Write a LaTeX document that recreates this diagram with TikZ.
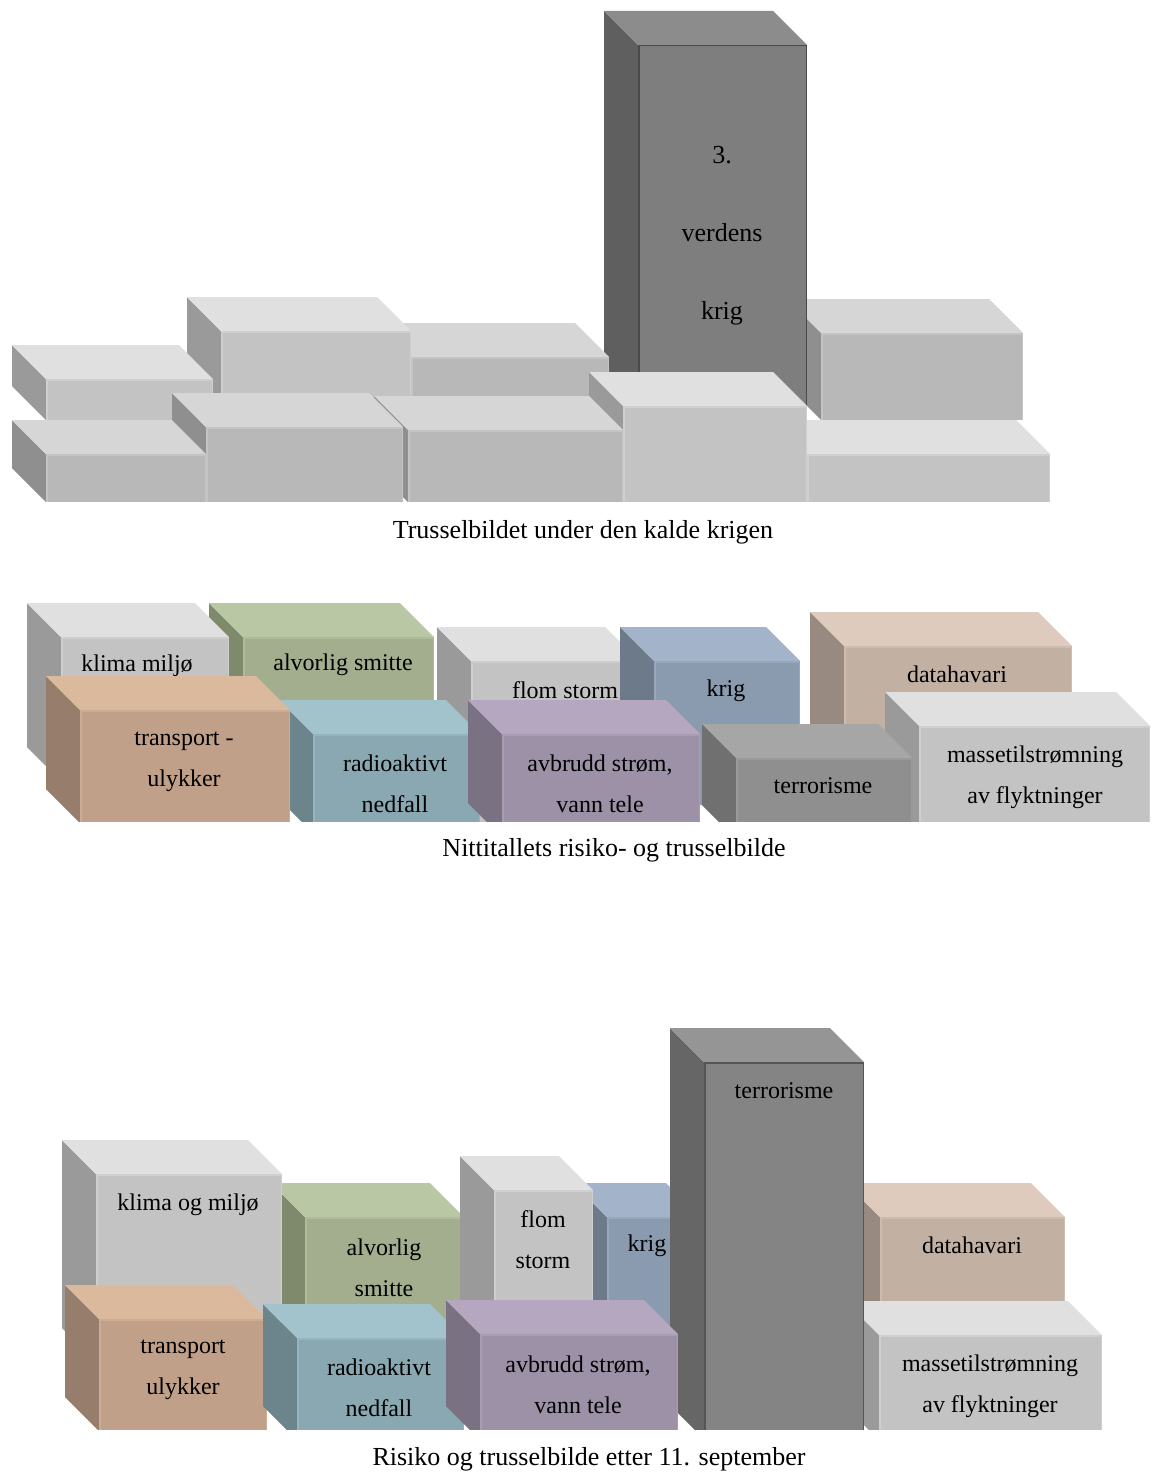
\documentclass[tikz,border=0pt]{standalone}
\usepackage{fontspec}
\setmainfont{Liberation Serif}
\definecolor{gaT}{HTML}{E0E0E0}\definecolor{gaF}{HTML}{C3C3C3}\definecolor{gaL}{HTML}{9A9A9A}\definecolor{gaE}{HTML}{CFCFCF}
\definecolor{gbT}{HTML}{D6D6D6}\definecolor{gbF}{HTML}{B8B8B8}\definecolor{gbL}{HTML}{8F8F8F}\definecolor{gbE}{HTML}{C4C4C4}
\definecolor{coT}{HTML}{8C8C8C}\definecolor{coF}{HTML}{7E7E7E}\definecolor{coL}{HTML}{5F5F5F}\definecolor{coE}{HTML}{4A4A4A}
\definecolor{dkT}{HTML}{A6A6A6}\definecolor{dkF}{HTML}{8F8F8F}\definecolor{dkL}{HTML}{707070}\definecolor{dkE}{HTML}{9A9A9A}
\definecolor{dtT}{HTML}{959595}\definecolor{dtF}{HTML}{848484}\definecolor{dtL}{HTML}{666666}\definecolor{dtE}{HTML}{555555}
\definecolor{grT}{HTML}{BAC7A4}\definecolor{grF}{HTML}{A3AE8F}\definecolor{grL}{HTML}{7F896C}\definecolor{grE}{HTML}{B0BB9C}
\definecolor{peT}{HTML}{DBB99C}\definecolor{peF}{HTML}{C0A088}\definecolor{peL}{HTML}{977E6C}\definecolor{peE}{HTML}{CCAC94}
\definecolor{teT}{HTML}{A2C3CC}\definecolor{teF}{HTML}{8AA8B2}\definecolor{teL}{HTML}{6C848B}\definecolor{teE}{HTML}{96B4BE}
\definecolor{blT}{HTML}{A3B4CA}\definecolor{blF}{HTML}{8B9BAF}\definecolor{blL}{HTML}{6D7A8A}\definecolor{blE}{HTML}{98A8BC}
\definecolor{puT}{HTML}{B4A7BF}\definecolor{puF}{HTML}{9C91A6}\definecolor{puL}{HTML}{7A7283}\definecolor{puE}{HTML}{A89DB2}
\definecolor{taT}{HTML}{DECBBD}\definecolor{taF}{HTML}{C2B0A3}\definecolor{taL}{HTML}{988A80}\definecolor{taE}{HTML}{CEBCAF}
\def\dd{34}
% #1 x0, #2 y0 (back top-left), #3 x1, #4 y1 (front bottom-right), #5 colour scheme
\newcommand\cubeshape[5]{%
  \fill[#5L] (#1,#2) -- (#1+\dd,#2+\dd) -- (#1+\dd,#4) -- (#1,#4-\dd) -- cycle;
  \fill[#5T] (#1,#2) -- (#3-\dd,#2) -- (#3,#2+\dd) -- (#1+\dd,#2+\dd) -- cycle;
  \fill[#5F] (#1+\dd,#2+\dd) rectangle (#3,#4);
  \draw[#5E, line width=1.5] (#1+\dd+0.75,#4) -- (#1+\dd+0.75,#2+\dd+0.75) -- (#3-0.75,#2+\dd+0.75) -- (#3-0.75,#4);
}
\tikzset{
  boxtext/.style={font=\fontsize{24}{41}\selectfont, align=center, inner sep=0pt},
  coltext/.style={font=\fontsize{26}{78}\selectfont, align=center, inner sep=0pt},
  caption/.style={font=\fontsize{26}{30}\selectfont, inner sep=0pt}
}
\begin{document}
\begin{tikzpicture}[x=1pt,y=-1pt]
\fill[white] (0,0) rectangle (1152,1472);
\useasboundingbox (0,0) rectangle (1152,1472);
% ---------- top panel ----------
\begin{scope}
\clip (0,0) rectangle (1152,502);
\cubeshape{787}{299}{1023}{420}{gb}
\cubeshape{604}{11}{807}{420}{co}
\cubeshape{377}{323}{609}{420}{gb}
\cubeshape{187}{297}{411}{420}{ga}
\cubeshape{12}{345}{213}{420}{ga}
\cubeshape{773}{420}{1050}{502}{ga}
\cubeshape{589}{372}{807}{502}{ga}
\cubeshape{374}{396}{623}{502}{gb}
\cubeshape{172}{393}{403}{502}{gb}
\cubeshape{12}{420}{206}{502}{gb}
\end{scope}
\node[coltext] (war) at (722,235.5) {3.\\verdens\\krig};
\node[caption] (cap1) at (583,532.5) {Trusselbildet under den kalde krigen};
% ---------- middle panel ----------
\begin{scope}
\clip (0,560) rectangle (1152,821);
\cubeshape{209}{603}{434}{780}{gr}
\cubeshape{27}{603}{229}{781}{ga}
\cubeshape{437}{627}{639}{850}{ga}
\cubeshape{620}{627}{800}{805}{bl}
\cubeshape{810}{612}{1072}{790}{ta}
\cubeshape{279}{700}{480}{833}{te}
\cubeshape{46}{676}{290}{823}{pe}
\cubeshape{468}{700}{700}{837}{pu}
\cubeshape{885}{692}{1150}{860}{ga}
\cubeshape{702}{724}{912}{839}{dk}
\end{scope}
\node[boxtext] (m1) at (137,665.5) {klima miljø};
\node[boxtext] (m2) at (343,664.5) {alvorlig smitte};
\node[boxtext] (m3) at (565,690.5) {flom storm};
\node[boxtext] (m4) at (726,690.5) {krig};
\node[boxtext] (m5) at (957,674.5) {datahavari};
\node[boxtext] (m6) at (184,762) {transport -\\ulykker};
\node[boxtext] (m7) at (395,784) {radioaktivt\\nedfall};
\node[boxtext] (m8) at (600,784) {avbrudd strøm,\\vann tele};
\node[boxtext] (m9) at (823,785.5) {terrorisme};
\node[boxtext] (m10) at (1035,777) {massetilstrømning\\av flyktninger};
\node[caption] (cap2) at (614,850.5) {Nittitallets risiko- og trusselbilde};
% ---------- bottom panel ----------
\begin{scope}
\clip (0,1000) rectangle (1152,1429);
\cubeshape{271}{1183}{464}{1400}{gr}
\cubeshape{62}{1140}{282}{1362}{ga}
\cubeshape{573}{1183}{700}{1400}{bl}
\cubeshape{460}{1156}{593}{1400}{ga}
\cubeshape{846}{1183}{1065}{1340}{ta}
\cubeshape{845}{1301}{1102}{1440}{ga}
\cubeshape{670}{1028}{864}{1439}{dt}
\cubeshape{65}{1285}{267}{1431}{pe}
\cubeshape{263}{1304}{464}{1440}{te}
\cubeshape{446}{1300}{678}{1440}{pu}
\end{scope}
\node[boxtext] (b1) at (188,1204.5) {klima og miljø};
\node[boxtext] (b2) at (384,1268) {alvorlig\\smitte};
\node[boxtext] (b3) at (543,1240) {flom\\storm};
\node[boxtext] (b4) at (647,1245.5) {krig};
\node[boxtext] (b5) at (784,1090.5) {terrorisme};
\node[boxtext] (b6) at (972,1245.5) {datahavari};
\node[boxtext] (b7) at (990,1386) {massetilstrømning\\av flyktninger};
\node[boxtext] (b8) at (183,1370) {transport\\ulykker};
\node[boxtext] (b9) at (379,1388) {radioaktivt\\nedfall};
\node[boxtext] (b10) at (578,1385) {avbrudd strøm,\\vann tele};
\node[caption] (cap3) at (589,1459.5) {Risiko og trusselbilde etter 11. september};
\end{tikzpicture}
\end{document}
